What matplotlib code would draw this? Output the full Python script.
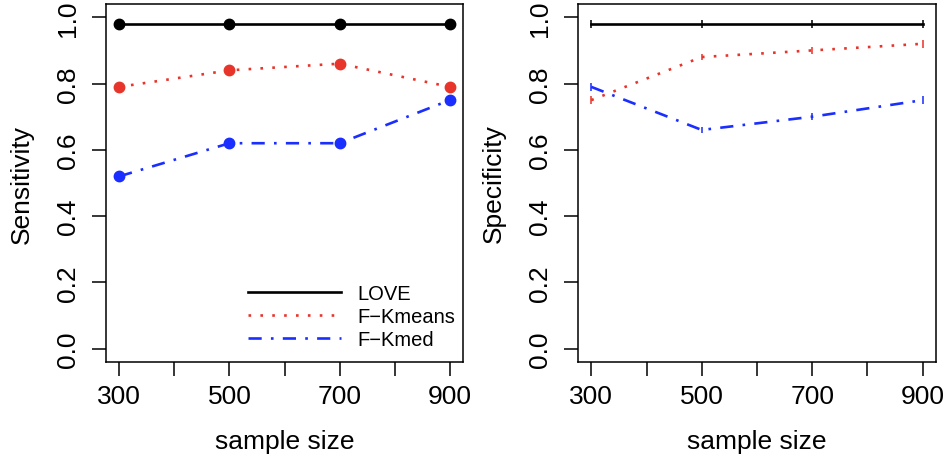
import numpy as np
import matplotlib
matplotlib.use('Agg')
import matplotlib.pyplot as plt
from matplotlib.lines import Line2D

plt.rcParams['font.family'] = ['Liberation Sans', 'DejaVu Sans']

# data
sample_size = [300, 500, 700, 900]
methods = ['LOVE', 'F\u2212Kmeans', 'F\u2212Kmed']

sens_love = [0.98, 0.98, 0.98, 0.98]
sens_kmeans = [0.79, 0.84, 0.86, 0.79]
sens_kmed = [0.52, 0.62, 0.62, 0.75]

spec_love = [0.98, 0.98, 0.98, 0.98]
spec_kmeans = [0.75, 0.88, 0.90, 0.92]
spec_kmed = [0.79, 0.66, 0.70, 0.75]

spec_love_err = [0.012, 0.012, 0.012, 0.012]
spec_kmeans_err = [0.012, 0.01, 0.01, 0.012]
spec_kmed_err = [0.013, 0.01, 0.01, 0.012]

RED = '#e8352b'
BLUE = '#1a2eff'
styles = [
    dict(color='black', ls='-'),
    dict(color=RED, ls=(0, (1, 3.5))),
    dict(color=BLUE, ls=(0, (5, 3.5, 1, 3.5))),
]
FS = 19
LW = 1.9

fig = plt.figure(figsize=(9.48, 4.6), dpi=100)
ax1 = fig.add_axes([106/948, 1-363/460, 357/948, 358/460])
ax2 = fig.add_axes([578/948, 1-363/460, 358/948, 358/460])


def style_axes(ax, ylabel):
    ax.set_xlim(276, 924)
    ax.set_ylim(-0.04, 1.04)
    ax.set_xticks(np.arange(300, 1000, 100))
    ax.set_xticklabels(['300', '', '500', '', '700', '', '900'])
    ax.set_yticks([0.0, 0.2, 0.4, 0.6, 0.8, 1.0])
    ax.set_yticklabels(['0.0', '0.2', '0.4', '0.6', '0.8', '1.0'],
                       rotation=90, va='center')
    ax.tick_params(direction='out', length=10, width=1.1, labelsize=FS,
                   colors='black')
    ax.tick_params(axis='x', pad=6)
    ax.tick_params(axis='y', pad=9)
    for s in ax.spines.values():
        s.set_linewidth(1.1)
    ax.set_xlabel('sample size', fontsize=FS, labelpad=15)
    ax.set_ylabel(ylabel, fontsize=FS, labelpad=16)


sens = [sens_love, sens_kmeans, sens_kmed]
for vals, st in zip(sens, styles):
    ax1.plot(sample_size, vals, color=st['color'], ls=st['ls'], lw=LW,
             marker='o', ms=7.5, mec=st['color'], mfc=st['color'])
style_axes(ax1, 'Sensitivity')

spec = [spec_love, spec_kmeans, spec_kmed]
errs = [spec_love_err, spec_kmeans_err, spec_kmed_err]
for vals, err, st in zip(spec, errs, styles):
    ax2.plot(sample_size, vals, color=st['color'], ls=st['ls'], lw=LW)
    ax2.errorbar(sample_size, vals, yerr=err, fmt='none',
                 ecolor=st['color'], elinewidth=1.4, capsize=0, alpha=0.8)
style_axes(ax2, 'Specificity')

handles = [Line2D([], [], color=st['color'], ls=st['ls'], lw=LW) for st in styles]
ax1.legend(handles, methods, loc='lower left', bbox_to_anchor=(0.365, 0.003),
           frameon=False, fontsize=14.5, handlelength=4.6, handletextpad=0.8,
           labelspacing=0.2, borderaxespad=0.2)

fig.savefig('out.png', dpi=100)
